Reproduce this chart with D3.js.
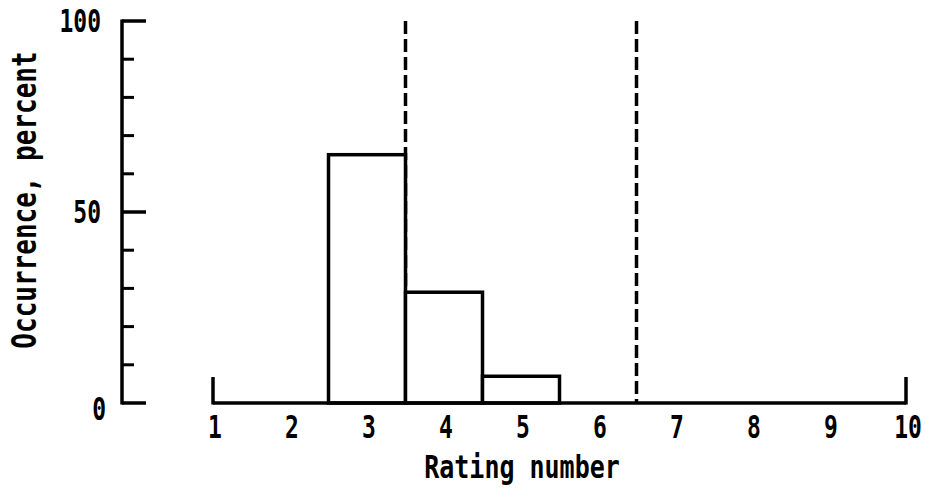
<!DOCTYPE html>
<html>
<head>
<meta charset="utf-8">
<script src="https://cdn.jsdelivr.net/npm/d3@7"></script>
<style>
  body { margin: 0; background: #fff; }
  text { font-family: "DejaVu Sans Mono", monospace; font-weight: bold; fill: #000; }
</style>
</head>
<body>
<div class="chart"></div>
<script>
// Data
const ratingTicks = [1, 2, 3, 4, 5, 6, 7, 8, 9, 10];
const barRatings = [3, 4, 5];
const barPercent = [65, 29, 7];
const limitLines = [3.5, 6.5];
const yMajorTicks = [0, 50, 100];
const yMinorTicks = [10, 20, 30, 40, 60, 70, 80, 90];

const svgWidth = 925;
const svgHeight = 488;

const svg = d3.select(".chart")
  .append("svg")
  .attr("width", svgWidth)
  .attr("height", svgHeight);

// scales
const x = d3.scaleLinear().domain([1, 10]).range([213, 906]);
const y = d3.scaleLinear().domain([0, 100]).range([403, 21]);
const yAxisX = 122;

// dashed limit lines (drawn first, bars cover the lower part)
svg.selectAll(".limit")
  .data(limitLines)
  .enter()
  .append("line")
  .attr("x1", d => x(d))
  .attr("x2", d => x(d))
  .attr("y1", y(100))
  .attr("y2", y(0))
  .attr("stroke", "#000")
  .attr("stroke-width", 3.5)
  .attr("stroke-dasharray", "13,5");

// histogram bars
svg.selectAll(".bar")
  .data(barRatings)
  .enter()
  .append("rect")
  .attr("x", d => x(d - 0.5))
  .attr("y", (d, i) => y(barPercent[i]))
  .attr("width", x(2) - x(1))
  .attr("height", (d, i) => y(0) - y(barPercent[i]))
  .attr("fill", "#fff")
  .attr("stroke", "#000")
  .attr("stroke-width", 3.5);

// y axis
svg.append("line")
  .attr("x1", yAxisX).attr("x2", yAxisX)
  .attr("y1", y(100) - 1.5).attr("y2", y(0) + 1.5)
  .attr("stroke", "#000").attr("stroke-width", 3.5);

svg.selectAll(".ymajor")
  .data(yMajorTicks)
  .enter()
  .append("line")
  .attr("x1", yAxisX).attr("x2", yAxisX + 24)
  .attr("y1", d => y(d)).attr("y2", d => y(d))
  .attr("stroke", "#000").attr("stroke-width", 3.5);

svg.selectAll(".yminor")
  .data(yMinorTicks)
  .enter()
  .append("line")
  .attr("x1", yAxisX).attr("x2", yAxisX + 12)
  .attr("y1", d => y(d)).attr("y2", d => y(d))
  .attr("stroke", "#000").attr("stroke-width", 3);

svg.selectAll(".ylabel")
  .data(yMajorTicks)
  .enter()
  .append("text")
  .attr("transform", d => `translate(${d === 0 ? 106 : 101}, ${y(d) + 11 + (d === 0 ? 6 : 0)}) scale(1, 1.35)`)
  .attr("text-anchor", "end")
  .style("font-size", "23px")
  .text(d => d);

// x axis baseline with end ticks
svg.append("line")
  .attr("x1", x(1)).attr("x2", x(10))
  .attr("y1", y(0)).attr("y2", y(0))
  .attr("stroke", "#000").attr("stroke-width", 3.5);

svg.selectAll(".xend")
  .data([1, 10])
  .enter()
  .append("line")
  .attr("x1", d => x(d)).attr("x2", d => x(d))
  .attr("y1", y(0) + 1.5).attr("y2", y(0) - 26)
  .attr("stroke", "#000").attr("stroke-width", 3.5);

svg.selectAll(".xlabel")
  .data(ratingTicks)
  .enter()
  .append("text")
  .attr("transform", d => `translate(${x(d) + 2}, 438) scale(1, 1.35)`)
  .attr("text-anchor", "middle")
  .style("font-size", "23px")
  .text(d => d);

// axis titles
svg.append("text")
  .attr("transform", "translate(522, 478) scale(1, 1.3)")
  .attr("text-anchor", "middle")
  .style("font-size", "25px")
  .text("Rating number");

svg.append("text")
  .attr("transform", "translate(36, 200) rotate(-90) scale(1, 1.3)")
  .attr("text-anchor", "middle")
  .style("font-size", "26px")
  .text("Occurrence, percent");
</script>
</body>
</html>
